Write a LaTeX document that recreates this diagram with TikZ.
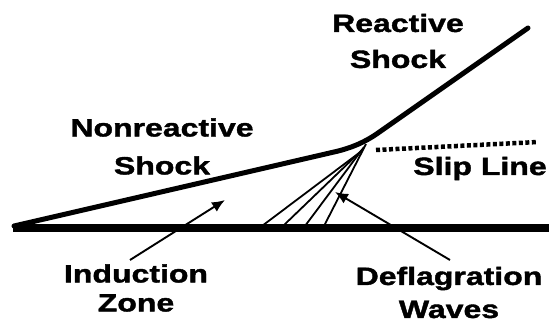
\documentclass[tikz,border=0pt]{standalone}
\usepackage{fontspec}
\newfontfamily\labelfont[FakeStretch=1.28, BoldFeatures={FakeBold=1.6}]{Liberation Sans}
\usetikzlibrary{arrows.meta}

\begin{document}
\begin{tikzpicture}[x=1pt, y=-1pt,
    shock/.style={line width=5pt, line cap=round, line join=round, rounded corners=10pt},
    wall/.style={line width=7.5pt},
    fan/.style={line width=1.8pt},
    slipline/.style={line width=4.5pt, dash pattern=on 4pt off 2.5pt},
    arr/.style={-{Latex[length=13pt, width=11pt]}, line width=1.9pt},
    lbl/.style={font=\labelfont\bfseries\fontsize{25}{30}\selectfont, align=center, inner sep=0pt},
  ]
  \useasboundingbox (0,0) rectangle (557,323);

  % wall and shocks
  \coordinate (wl) at (13,228);
  \coordinate (wr) at (549,228);
  \coordinate (apex) at (14,226);
  \coordinate (bend) at (347,149);
  \coordinate (tp) at (368,140);
  \coordinate (rtop) at (528,28);
  \coordinate (sla) at (376,150);
  \coordinate (slb) at (538,142);

  \draw[wall] (wl) -- (wr);
  \draw[shock] (apex) -- (bend) -- (tp) -- (rtop);
  \draw[slipline] (sla) -- (slb);

  % deflagration fan
  \foreach \i/\gx/\tx/\ty in {1/262/359/153, 2/283/362/150, 3/305/364/147, 4/324/366/144} {
    \coordinate (fb\i) at (\gx,226);
    \coordinate (ft\i) at (\tx,\ty);
    \draw[fan] (fb\i) -- (ft\i);
  }

  % labels
  \node[lbl] (react) at (398,41) {Reactive\\[6pt]Shock};
  \node[lbl] (nonreact) at (162,146.5) {Nonreactive\\[8pt]Shock};
  \node[lbl, anchor=base] (sl) at (480,175) {Slip Line};
  \node[lbl] (ind) at (136,288) {Induction\\[-1pt]Zone};
  \node[lbl] (defl) at (449,292.5) {Deflagration\\[3pt]Waves};

  % pointers
  \coordinate (izt) at (130,260);
  \coordinate (izh) at (225,200);
  \coordinate (dwt) at (450,260);
  \coordinate (dwh) at (335,192);
  \draw[arr] (izt) -- (izh);
  \draw[arr] (dwt) -- (dwh);
\end{tikzpicture}
\end{document}
